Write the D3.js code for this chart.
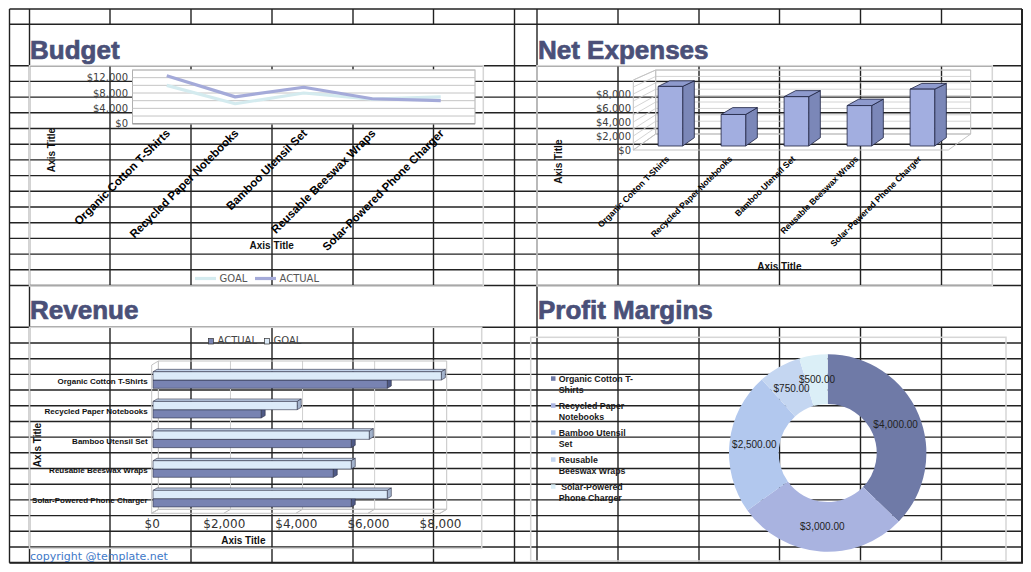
<!DOCTYPE html>
<html>
<head>
<meta charset="utf-8">
<script src="https://cdn.jsdelivr.net/npm/d3@7"></script>
<style>
  body { margin: 0; background: #fff; }
  svg { display: block; }
</style>
</head>
<body>
<div id="sheet"></div>
<script>
'use strict';

// ---- data ----
const products = ['Organic Cotton T-Shirts', 'Recycled Paper Notebooks', 'Bamboo Utensil Set',
    'Reusable Beeswax Wraps', 'Solar-Powered Phone Charger'];
const budgetGoal = [10000, 5200, 8000, 6400, 7000];
const budgetActual = [12500, 7000, 9500, 6500, 6000];
const expenses = [8700, 4600, 7200, 5900, 8300];
const revenueActual = [6500, 3000, 5500, 5000, 5500];
const revenueGoal = [8000, 4000, 6000, 5500, 6500];
const margins = [4000, 3000, 2500, 750, 500];
const marginLegend = [['Organic Cotton T-', 'Shirts'], ['Recycled Paper', 'Notebooks'],
    ['Bamboo Utensil', 'Set'], ['Reusable', 'Beeswax Wraps'], [' Solar-Powered', 'Phone Charger']];
const budgetTicks = [0, 4000, 8000, 12000];
const expenseTicks = [0, 2000, 4000, 6000, 8000];
const revenueTicks = [0, 2000, 4000, 6000, 8000];

const ARIAL = 'Liberation Sans, Arial, sans-serif';
const DEJAVU = 'DejaVu Sans, sans-serif';
const titleColor = '#4a5078';
const money = d3.format('$,');
const money2 = d3.format('$,.2f');

let svg = d3.select('#sheet').append('svg')
    .attr('width', 1031)
    .attr('height', 572);

// ---- spreadsheet grid ----
const cols = [9.5, 29.5, 110, 191, 272, 353, 433.5, 514.5, 537, 618, 699, 779.5, 860.5, 941.5, 1022];
const fullCols = [9.5, 29.5, 514.5, 537, 1022];
let rows = [9, 24.3, 65.7];
for (let i = 1; i <= 14; i++) rows.push(65.7 + i * 15.7);
rows.push(327.3);
for (let i = 1; i <= 15; i++) rows.push(327.3 + i * 15.69);
const spans = [[9, 24.3], [65.7, 285.5], [327.3, 562.7]];

let grid = svg.append('g').attr('stroke', '#222').attr('stroke-width', 1.4);
rows.forEach((y) => {
    grid.append('line').attr('x1', 9.5).attr('x2', 1022).attr('y1', y).attr('y2', y);
});
cols.forEach((x) => {
    if (fullCols.includes(x)) {
        grid.append('line').attr('x1', x).attr('x2', x).attr('y1', 9).attr('y2', 562.7);
    } else {
        spans.forEach((s) => {
            grid.append('line').attr('x1', x).attr('x2', x).attr('y1', s[0]).attr('y2', s[1]);
        });
    }
});
grid.append('line').attr('x1', 1022).attr('x2', 1022).attr('y1', 9).attr('y2', 563).attr('stroke-width', 2);
grid.append('line').attr('x1', 9.5).attr('x2', 1023).attr('y1', 562.7).attr('y2', 562.7).attr('stroke-width', 2);

function chartBox(x0, y0, x1, y1) {
    svg.append('rect')
        .attr('x', x0).attr('y', y0)
        .attr('width', x1 - x0).attr('height', y1 - y0)
        .attr('fill', 'none')
        .attr('stroke', '#d6d6d6')
        .attr('stroke-width', 1.5);
}

function title(txt, x, y) {
    svg.append('text')
        .attr('x', x).attr('y', y)
        .attr('font-family', ARIAL)
        .attr('font-weight', 'bold')
        .attr('font-size', 26)
        .attr('fill', titleColor)
        .attr('stroke', titleColor)
        .attr('stroke-width', 0.7)
        .text(txt);
}

function axisTitle(x, y, rotate) {
    svg.append('text')
        .attr('transform', 'translate(' + x + ',' + y + ')' + (rotate ? ' rotate(-90)' : ''))
        .attr('text-anchor', 'middle')
        .attr('font-family', ARIAL)
        .attr('font-weight', 'bold')
        .attr('font-size', 10)
        .attr('fill', '#111')
        .text('Axis Title');
}

function poly(g, pts, fill, stroke, sw) {
    g.append('polygon')
        .attr('points', pts.map((p) => p.join(',')).join(' '))
        .attr('fill', fill)
        .attr('stroke', stroke)
        .attr('stroke-width', sw)
        .attr('stroke-linejoin', 'round');
}

// ---- Budget ----
title('Budget', 30, 58.5);
chartBox(29.5, 65.7, 483.3, 286);

let bx = d3.scaleBand().domain(products).range([132.5, 475]);
let by = d3.scaleLinear().domain([0, 14000]).range([123.7, 70]);

svg.append('rect')
    .attr('x', 132.5).attr('y', 70)
    .attr('width', 475 - 132.5).attr('height', 123.7 - 70)
    .attr('fill', '#fff')
    .attr('stroke', '#b0b0b0');

svg.append('g').selectAll('line')
    .data(d3.range(2000, 14001, 2000))
    .enter().append('line')
        .attr('x1', 132.5).attr('x2', 475)
        .attr('y1', (d) => by(d)).attr('y2', (d) => by(d))
        .attr('stroke', '#c4c4c4');
svg.append('line')
    .attr('x1', 132.5).attr('x2', 475).attr('y1', 123.7).attr('y2', 123.7)
    .attr('stroke', '#a0a0a0').attr('stroke-width', 1.5);

let bAxisY = svg.append('g')
    .attr('transform', 'translate(132.5,0)')
    .call(d3.axisLeft(by).tickValues(budgetTicks).tickFormat(money).tickSize(0).tickPadding(4.5));
bAxisY.select('.domain').remove();
bAxisY.selectAll('text')
    .attr('font-family', DEJAVU).attr('font-size', 10).attr('fill', '#404040');

let bLine = d3.line()
    .x((d, i) => bx(products[i]) + bx.bandwidth() / 2)
    .y((d) => by(d));

svg.append('path')
    .attr('d', bLine(budgetGoal))
    .attr('fill', 'none').attr('stroke', '#d4ebef').attr('stroke-width', 3.2)
    .attr('stroke-linejoin', 'round');
svg.append('path')
    .attr('d', bLine(budgetActual))
    .attr('fill', 'none').attr('stroke', '#a4aad9').attr('stroke-width', 3.2)
    .attr('stroke-linejoin', 'round');

svg.append('g').selectAll('text')
    .data(products)
    .enter().append('text')
        .attr('transform', (d) => 'translate(' + (bx(d) + bx.bandwidth() / 2 + 4) + ',134) rotate(-45)')
        .attr('text-anchor', 'end')
        .attr('font-family', ARIAL).attr('font-weight', 'bold').attr('font-size', 11.5)
        .attr('fill', '#000')
        .text((d) => d);

axisTitle(54.5, 150, true);
axisTitle(271.7, 248.5, false);

let bLegend = [['GOAL', '#d4ebef', 195], ['ACTUAL', '#a4aad9', 255]];
bLegend.forEach((l) => {
    svg.append('line')
        .attr('x1', l[2]).attr('x2', l[2] + 21).attr('y1', 278.5).attr('y2', 278.5)
        .attr('stroke', l[1]).attr('stroke-width', 3.2);
    svg.append('text')
        .attr('x', l[2] + 24.5).attr('y', 282)
        .attr('font-family', DEJAVU).attr('font-size', 10).attr('fill', '#555')
        .text(l[0]);
});

// ---- Net Expenses ----
title('Net Expenses', 538, 58.5);
chartBox(537, 65.7, 992.3, 286);

const ne = { x0: 633.3, x1: 948.3, floor: 150, dx: 22.4, dy: -16, shrink: 0.086 };
let nx = d3.scaleBand().domain(products).range([ne.x0, ne.x1]).paddingInner(0.61).paddingOuter(0.305);
let nxc = d3.scaleBand().domain(products).range([ne.x0, ne.x1]);
let nh = d3.scaleLinear().domain([0, 10000]).range([0, 70]);

function nPt(x, v, d) {
    return [x + ne.dx * d, ne.floor + ne.dy * d - nh(v) * (1 - ne.shrink * d)];
}

let nWall = svg.append('g');
// back wall + side wall gridlines
d3.range(1000, 10001, 1000).forEach((v) => {
    let a = nPt(ne.x0, v, 0), b = nPt(ne.x0, v, 1), c = nPt(ne.x1, v, 1);
    nWall.append('polyline')
        .attr('points', [a, b, c].map((p) => p.join(',')).join(' '))
        .attr('fill', 'none').attr('stroke', '#cfcfcf').attr('stroke-width', 0.9);
});
poly(nWall, [nPt(ne.x0, 0, 1), nPt(ne.x1, 0, 1), nPt(ne.x1, 10000, 1), nPt(ne.x0, 10000, 1)], 'none', '#bdbdbd', 1);
poly(nWall, [nPt(ne.x0, 0, 0), nPt(ne.x0, 0, 1), nPt(ne.x0, 10000, 1), nPt(ne.x0, 10000, 0)], 'none', '#c4c4c4', 1);
poly(nWall, [nPt(ne.x0, 0, 0), nPt(ne.x1, 0, 0), nPt(ne.x1, 0, 1), nPt(ne.x0, 0, 1)], 'none', '#c4c4c4', 1);

let nBars = svg.append('g');
const d0 = 0.25, d1 = 0.77;
expenses.forEach((v, i) => {
    let xl = nx(products[i]), xr = xl + nx.bandwidth();
    poly(nBars, [nPt(xr, 0, d0), nPt(xr, 0, d1), nPt(xr, v, d1), nPt(xr, v, d0)], '#7b87b8', '#1d2240', 0.8);
    poly(nBars, [nPt(xl, v, d0), nPt(xr, v, d0), nPt(xr, v, d1), nPt(xl, v, d1)], '#8e9acd', '#1d2240', 0.8);
    poly(nBars, [nPt(xl, 0, d0), nPt(xr, 0, d0), nPt(xr, v, d0), nPt(xl, v, d0)], '#a2aee0', '#1d2240', 0.8);
});

svg.append('g').selectAll('text')
    .data(expenseTicks)
    .enter().append('text')
        .attr('x', 631).attr('y', (d) => nPt(ne.x0, d, 0)[1] + 3.6)
        .attr('text-anchor', 'end')
        .attr('font-family', DEJAVU).attr('font-size', 10).attr('fill', '#404040')
        .text(money);

svg.append('g').selectAll('text')
    .data(products)
    .enter().append('text')
        .attr('transform', (d) => 'translate(' + (nxc(d) + nxc.bandwidth() / 2 + 5) + ',159.5) rotate(-45)')
        .attr('text-anchor', 'end')
        .attr('font-family', ARIAL).attr('font-weight', 'bold').attr('font-size', 8.6)
        .attr('fill', '#000')
        .text((d) => d);

axisTitle(562, 161.7, true);
axisTitle(779.3, 270, false);

// ---- Revenue ----
title('Revenue', 30, 318.5);
chartBox(29.5, 327.3, 481.7, 548.3);

const rv = { top: 365, bottom: 513.3, dx: 6.7, dy: -4 };
let rx = d3.scaleLinear().domain([0, 8000]).range([151.7, 440]);
let ry = d3.scaleBand().domain(products).range([rv.top, rv.bottom]);

function rPt(v, y, d) {
    return [rx(v) + rv.dx * d, y + rv.dy * d];
}

let rWall = svg.append('g');
revenueTicks.forEach((v) => {
    if (v > 0 && v < 8000) {
        rWall.append('line')
            .attr('x1', rPt(v, rv.top, 1)[0]).attr('x2', rPt(v, rv.bottom, 1)[0])
            .attr('y1', rPt(v, rv.top, 1)[1]).attr('y2', rPt(v, rv.bottom, 1)[1])
            .attr('stroke', '#cfcfcf');
    }
    let a = rPt(v, rv.bottom, 0), b = rPt(v, rv.bottom, 1);
    rWall.append('line')
        .attr('x1', a[0]).attr('y1', a[1]).attr('x2', b[0]).attr('y2', b[1])
        .attr('stroke', '#bdbdbd');
});
poly(rWall, [rPt(0, rv.top, 1), rPt(8000, rv.top, 1), rPt(8000, rv.bottom, 1), rPt(0, rv.bottom, 1)], 'none', '#c4c4c4', 1);
poly(rWall, [rPt(0, rv.top, 0), rPt(0, rv.top, 1), rPt(0, rv.bottom, 1), rPt(0, rv.bottom, 0)], 'none', '#c4c4c4', 1);
poly(rWall, [rPt(0, rv.bottom, 0), rPt(8000, rv.bottom, 0), rPt(8000, rv.bottom, 1), rPt(0, rv.bottom, 1)], 'none', '#c4c4c4', 1);

const barH = 8.3, r0 = 0.2, r1 = 0.8;
function rBar(g, v, yT, front, top, cap) {
    let yB = yT + barH;
    poly(g, [rPt(0, yT, r0), rPt(v, yT, r0), rPt(v, yT, r1), rPt(0, yT, r1)], top, '#2b2f45', 0.6);
    poly(g, [rPt(v, yT, r0), rPt(v, yT, r1), rPt(v, yB, r1), rPt(v, yB, r0)], cap, '#2b2f45', 0.6);
    poly(g, [rPt(0, yT, r0), rPt(v, yT, r0), rPt(v, yB, r0), rPt(0, yB, r0)], front, '#2b2f45', 0.6);
}

let rBars = svg.append('g');
products.forEach((p, i) => {
    let c = ry(p) + ry.bandwidth() / 2 + 1;
    rBar(rBars, revenueActual[i], c, '#7883b2', '#8f9ac6', '#4f5a86');
    rBar(rBars, revenueGoal[i], c - barH, '#dcebf9', '#c3d3ea', '#a3b3cc');
});

svg.append('g').selectAll('text')
    .data(products)
    .enter().append('text')
        .attr('x', 147.7).attr('y', (d) => ry(d) + ry.bandwidth() / 2 + 4.5)
        .attr('text-anchor', 'end')
        .attr('font-family', ARIAL).attr('font-weight', 'bold').attr('font-size', 8)
        .attr('fill', '#111')
        .text((d) => d);

let rAxis = svg.append('g')
    .attr('transform', 'translate(0,' + rv.bottom + ')')
    .call(d3.axisBottom(rx).tickValues(revenueTicks).tickFormat(money).tickSize(0));
rAxis.select('.domain').remove();
rAxis.selectAll('text')
    .attr('y', 14.4).attr('dy', 0)
    .attr('font-family', DEJAVU).attr('font-size', 12).attr('fill', '#333');

axisTitle(40.5, 445, true);
axisTitle(243.3, 544, false);

let rLegend = [['ACTUAL', '#7883b2', 208.5], ['GOAL', '#dcebf9', 264.5]];
rLegend.forEach((l) => {
    svg.append('rect')
        .attr('x', l[2]).attr('y', 338.5).attr('width', 5).attr('height', 5.5)
        .attr('fill', l[1]).attr('stroke', '#333').attr('stroke-width', 0.7);
    svg.append('text')
        .attr('x', l[2] + 9).attr('y', 344)
        .attr('font-family', DEJAVU).attr('font-size', 10).attr('fill', '#444')
        .text(l[0]);
});

svg.append('text')
    .attr('x', 30).attr('y', 559.5)
    .attr('font-family', DEJAVU).attr('font-size', 11).attr('fill', '#4078c8')
    .text('copyright @template.net');

// ---- Profit Margins ----
title('Profit Margins', 538, 318.5);
chartBox(530.7, 337.3, 1006, 561);

const sliceColors = ['#6f7aa7', '#a9b3e0', '#b2c8ee', '#c4d6f1', '#dbeff7'];
let pie = d3.pie().sort(null).value((d) => d);
let arc = d3.arc().innerRadius(49).outerRadius(98.7);
let labelArc = d3.arc().innerRadius(73.8).outerRadius(73.8);

let donut = svg.append('g').attr('transform', 'translate(827.7,453)');
let slices = pie(margins);
donut.selectAll('path')
    .data(slices)
    .enter().append('path')
        .attr('d', arc)
        .attr('fill', (d, i) => sliceColors[i]);
donut.selectAll('text')
    .data(slices)
    .enter().append('text')
        .attr('transform', (d) => 'translate(' + labelArc.centroid(d) + ')')
        .attr('dy', '0.35em')
        .attr('text-anchor', 'middle')
        .attr('font-family', ARIAL).attr('font-size', 10).attr('fill', '#222')
        .text((d) => money2(d.data));

let pLegend = svg.append('g');
marginLegend.forEach((lines, i) => {
    let y = 382.3 + i * 27;
    pLegend.append('rect')
        .attr('x', 551).attr('y', y - 6).attr('width', 4.5).attr('height', 4.5)
        .attr('fill', sliceColors[i]);
    lines.forEach((t, j) => {
        pLegend.append('text')
            .attr('x', 558.7).attr('y', y + j * 10.8)
            .style('white-space', 'pre')
            .attr('font-family', ARIAL).attr('font-weight', 'bold').attr('font-size', 8.8)
            .attr('fill', '#1a1a1a')
            .text(t);
    });
});
</script>
</body>
</html>
